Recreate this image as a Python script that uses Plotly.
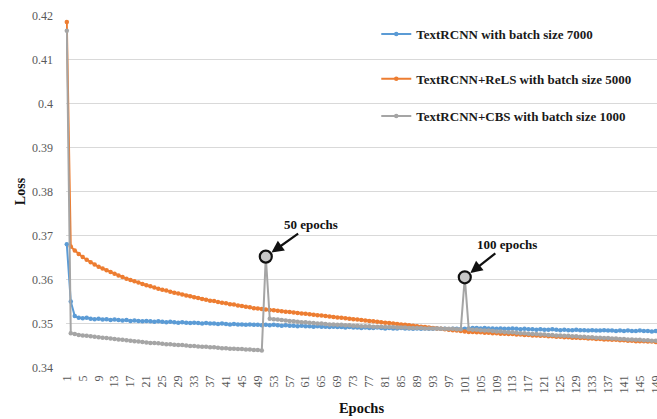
import plotly.graph_objects as go

epochs = list(range(1, 151))
x_tick_vals = list(range(1, 150, 4))
x_tick_labels = [str(v) for v in x_tick_vals]
y_tick_vals = [0.34, 0.35, 0.36, 0.37, 0.38, 0.39, 0.40, 0.41, 0.42]
y_tick_labels = ["0.34", "0.35", "0.36", "0.37", "0.38", "0.39", "0.4", "0.41", "0.42"]

name_blue = "TextRCNN with batch size 7000"
name_orange = "TextRCNN+ReLS with batch size 5000"
name_gray = "TextRCNN+CBS with batch size 1000"

loss_blue = [
    0.3680, 0.3550, 0.3517, 0.3513, 0.3512, 0.3513, 0.3511, 0.3510, 0.3511, 0.3509,
    0.3510, 0.3508, 0.3509, 0.3508, 0.3507, 0.3508, 0.3506, 0.3507, 0.3506, 0.3505,
    0.3506, 0.3505, 0.3504, 0.3505, 0.3504, 0.3503, 0.3504, 0.3503, 0.3502, 0.3503,
    0.3502, 0.3501, 0.3502, 0.3501, 0.3500, 0.3501, 0.3500, 0.3500, 0.3499, 0.3500,
    0.3499, 0.3498, 0.3499, 0.3498, 0.3498, 0.3497, 0.3498, 0.3497, 0.3497, 0.3496,
    0.3497, 0.3496, 0.3497, 0.3496, 0.3495, 0.3496, 0.3495, 0.3495, 0.3494, 0.3495,
    0.3494, 0.3494, 0.3493, 0.3494, 0.3493, 0.3493, 0.3492, 0.3493, 0.3492, 0.3492,
    0.3491, 0.3492, 0.3491, 0.3491, 0.3490, 0.3491, 0.3490, 0.3490, 0.3491, 0.3490,
    0.3489, 0.3490, 0.3489, 0.3489, 0.3490, 0.3489, 0.3489, 0.3488, 0.3489, 0.3488,
    0.3489, 0.3488, 0.3488, 0.3489, 0.3488, 0.3488, 0.3487, 0.3488, 0.3488, 0.3487,
    0.3488, 0.3489, 0.3490, 0.3490, 0.3489, 0.3490, 0.3489, 0.3489, 0.3488, 0.3489,
    0.3488, 0.3488, 0.3489, 0.3488, 0.3487, 0.3488, 0.3487, 0.3487, 0.3486, 0.3487,
    0.3486, 0.3486, 0.3487, 0.3486, 0.3485, 0.3486, 0.3485, 0.3485, 0.3486, 0.3485,
    0.3485, 0.3484, 0.3485, 0.3484, 0.3484, 0.3485, 0.3484, 0.3484, 0.3483, 0.3484,
    0.3483, 0.3484, 0.3483, 0.3483, 0.3484, 0.3483, 0.3483, 0.3482, 0.3483, 0.3483,
]

loss_orange = [
    0.4185, 0.3675, 0.3666, 0.3658, 0.3651, 0.3645, 0.3639, 0.3634, 0.3629, 0.3625,
    0.3621, 0.3617, 0.3613, 0.3609, 0.3606, 0.3602, 0.3599, 0.3596, 0.3593, 0.3590,
    0.3587, 0.3585, 0.3582, 0.3579, 0.3577, 0.3575, 0.3572, 0.3570, 0.3568, 0.3566,
    0.3564, 0.3562, 0.3560, 0.3558, 0.3556, 0.3554, 0.3552, 0.3551, 0.3549, 0.3547,
    0.3546, 0.3544, 0.3543, 0.3541, 0.3540, 0.3538, 0.3537, 0.3535, 0.3534, 0.3533,
    0.3532, 0.3531, 0.3530, 0.3529, 0.3528, 0.3527, 0.3526, 0.3525, 0.3524, 0.3523,
    0.3522, 0.3521, 0.3520, 0.3519, 0.3518, 0.3517, 0.3516, 0.3515, 0.3514, 0.3513,
    0.3512, 0.3511, 0.3510, 0.3509, 0.3508, 0.3507, 0.3506, 0.3505, 0.3504, 0.3503,
    0.3502, 0.3501, 0.3500, 0.3499, 0.3498, 0.3497, 0.3496, 0.3495, 0.3494, 0.3493,
    0.3492, 0.3491, 0.3490, 0.3489, 0.3488, 0.3487, 0.3486, 0.3485, 0.3484, 0.3483,
    0.3482, 0.3481, 0.3481, 0.3480, 0.3480, 0.3479, 0.3479, 0.3478, 0.3478, 0.3477,
    0.3477, 0.3476, 0.3476, 0.3475, 0.3475, 0.3474, 0.3474, 0.3473, 0.3473, 0.3472,
    0.3472, 0.3471, 0.3471, 0.3470, 0.3470, 0.3469, 0.3469, 0.3468, 0.3468, 0.3467,
    0.3467, 0.3466, 0.3466, 0.3465, 0.3465, 0.3464, 0.3464, 0.3463, 0.3463, 0.3462,
    0.3462, 0.3461, 0.3461, 0.3460, 0.3460, 0.3460, 0.3459, 0.3459, 0.3458, 0.3458,
]

loss_gray = [
    0.4165, 0.3478, 0.3476, 0.3474, 0.3473, 0.3472, 0.3471, 0.3470, 0.3469, 0.3468,
    0.3467, 0.3466, 0.3465, 0.3464, 0.3463, 0.3462, 0.3461, 0.3460, 0.3459, 0.3458,
    0.3457, 0.3456, 0.3456, 0.3455, 0.3454, 0.3453, 0.3453, 0.3452, 0.3451, 0.3451,
    0.3450, 0.3449, 0.3449, 0.3448, 0.3447, 0.3447, 0.3446, 0.3446, 0.3445, 0.3444,
    0.3444, 0.3443, 0.3443, 0.3442, 0.3442, 0.3441, 0.3441, 0.3440, 0.3440, 0.3439,
    0.3652, 0.3511, 0.3510, 0.3509, 0.3508, 0.3507, 0.3506, 0.3505, 0.3504, 0.3503,
    0.3503, 0.3502, 0.3501, 0.3500, 0.3500, 0.3499, 0.3498, 0.3498, 0.3497, 0.3497,
    0.3496, 0.3496, 0.3495, 0.3495, 0.3494, 0.3494, 0.3494, 0.3493, 0.3493, 0.3493,
    0.3492, 0.3492, 0.3492, 0.3491, 0.3491, 0.3491, 0.3490, 0.3490, 0.3490, 0.3490,
    0.3489, 0.3489, 0.3489, 0.3489, 0.3488, 0.3488, 0.3488, 0.3488, 0.3487, 0.3487,
    0.3605, 0.3487, 0.3486, 0.3486, 0.3485, 0.3484, 0.3484, 0.3483, 0.3482, 0.3482,
    0.3481, 0.3480, 0.3480, 0.3479, 0.3478, 0.3478, 0.3477, 0.3476, 0.3476, 0.3475,
    0.3475, 0.3474, 0.3474, 0.3473, 0.3473, 0.3472, 0.3472, 0.3471, 0.3471, 0.3470,
    0.3470, 0.3469, 0.3469, 0.3468, 0.3468, 0.3467, 0.3467, 0.3466, 0.3466, 0.3465,
    0.3465, 0.3464, 0.3464, 0.3463, 0.3463, 0.3462, 0.3462, 0.3461, 0.3461, 0.3460,
]

spike_epochs = [51, 101]
spike_texts = ["50 epochs", "100 epochs"]

SERIF = "Liberation Serif, Times New Roman, serif"
C_BLUE = "#5B9BD5"
C_ORANGE = "#ED7D31"
C_GRAY = "#A5A5A5"

fig = go.Figure()
for name, ys, col, leg in [
    (name_blue, loss_blue, C_BLUE, "legend"),
    (name_orange, loss_orange, C_ORANGE, "legend2"),
    (name_gray, loss_gray, C_GRAY, "legend3"),
]:
    fig.add_trace(go.Scatter(
        x=epochs, y=ys, name=name, mode="lines+markers",
        line=dict(color=col, width=2),
        marker=dict(color=col, size=4.5),
        cliponaxis=False, legend=leg,
    ))

spike_y = [loss_gray[e - 1] for e in spike_epochs]
fig.add_trace(go.Scatter(
    x=spike_epochs, y=spike_y, mode="markers", showlegend=False,
    marker=dict(symbol="circle", size=12, color="#C8C8C8",
                line=dict(color="#111111", width=2.2)),
    cliponaxis=False,
))

offsets = [(45, -32), (42, -33)]
for e, yv, t, (ax, ay) in zip(spike_epochs, spike_y, spike_texts, offsets):
    fig.add_annotation(
        x=e, y=yv, text=t, showarrow=True, ax=ax, ay=ay,
        arrowhead=2, arrowsize=1.1, arrowwidth=2.2, arrowcolor="#111111",
        standoff=7,
        font=dict(family=SERIF, size=13, color="#111111", weight="bold"),
    )

leg_common = dict(
    bgcolor="rgba(0,0,0,0)", borderwidth=0, xanchor="left", yanchor="middle",
    font=dict(family=SERIF, size=13, color="#1a1a1a", weight="bold"),
    itemwidth=30,
)
lx = 0.525
fig.update_layout(
    width=657, height=419,
    margin=dict(l=66, r=0, t=15, b=51),
    paper_bgcolor="white", plot_bgcolor="white",
    legend=dict(x=lx, y=0.946, **leg_common),
    legend2=dict(x=lx, y=0.819, **leg_common),
    legend3=dict(x=lx, y=0.714, **leg_common),
    xaxis=dict(
        range=[0.8, 149.3], tickmode="array", tickvals=x_tick_vals,
        ticktext=x_tick_labels, tickangle=-90, showgrid=False, zeroline=False,
        showline=False, ticks="", ticklabelstandoff=4, ticklabeloverflow="allow",
        automargin=False,
        tickfont=dict(family=SERIF, size=12, color="#595959"),
        title=dict(text="Epochs", standoff=10,
                   font=dict(family=SERIF, size=14.5, color="#111111", weight="bold")),
    ),
    yaxis=dict(
        range=[0.3399, 0.4201], tickmode="array", tickvals=y_tick_vals,
        ticktext=y_tick_labels, showgrid=True, gridcolor="#D9D9D9", gridwidth=1,
        zeroline=False, showline=False, ticks="", ticklabelstandoff=12,
        automargin=False,
        tickfont=dict(family=SERIF, size=12, color="#595959"),
        title=dict(text="Loss", standoff=3,
                   font=dict(family=SERIF, size=14, color="#111111", weight="bold")),
    ),
)

fig.write_html("out.html")
